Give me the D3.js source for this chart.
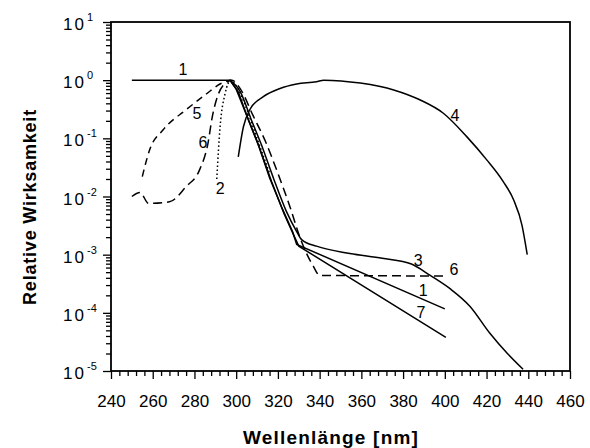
<!DOCTYPE html>
<html>
<head>
<meta charset="utf-8">
<script src="https://cdn.jsdelivr.net/npm/d3@7"></script>
<style>
  body { margin: 0; background: #fff; }
  svg { font-family: "Liberation Sans", Arial, sans-serif; }
</style>
</head>
<body>
<svg id="chart"></svg>
<script>
// Wellenlängen [nm] und relative Wirksamkeit der einzelnen Kurven
const wl1 = [250, 297, 300, 305, 310, 316, 322, 327, 329, 400];
const val1 = [1, 1, 0.7, 0.25, 0.09, 0.021, 0.0063, 0.0025, 0.0015, 0.000117];

const wl2 = [290.7, 292.3, 294.7, 297.5, 300, 304, 308, 312, 316];
const val2 = [0.02, 0.16, 0.59, 1.0, 0.8, 0.4, 0.16, 0.063, 0.025];

const wl3 = [297, 302, 307, 312, 318, 324, 329, 331.5, 338.5, 354.5, 370, 384, 393, 402.5, 412, 421.5, 430, 437.5];
const val3 = [1, 0.63, 0.22, 0.079, 0.02, 0.0056, 0.0025, 0.0018, 0.0014, 0.00105, 0.00087, 0.00069, 0.00044, 0.00026, 0.00013, 0.000045, 0.00002, 0.0000107];

const wl4 = [301, 303.5, 306.5, 313, 321, 329, 338.5, 342, 359.5, 375.5, 388, 399.3, 410.5, 420, 428, 433, 437, 439.5];
const val4 = [0.048, 0.16, 0.31, 0.52, 0.72, 0.86, 0.94, 1.0, 0.89, 0.68, 0.46, 0.27, 0.107, 0.043, 0.018, 0.0087, 0.0032, 0.001];

const wl5 = [255, 258.5, 265, 276, 286, 292, 297];
const val5 = [0.022, 0.063, 0.14, 0.31, 0.59, 0.85, 1.0];

const wl6 = [250, 254, 258, 268, 276, 282.5, 286.5, 288.5, 291, 294, 298, 302, 308, 314, 320, 326, 330.5, 334, 337, 340, 400];
const val6 = [0.01, 0.0117, 0.0076, 0.0081, 0.0148, 0.029, 0.083, 0.23, 0.52, 0.83, 1.0, 0.71, 0.25, 0.089, 0.025, 0.0063, 0.002, 0.001, 0.00063, 0.00044, 0.00043];

const wl7 = [297, 301, 306, 311, 317, 323, 328, 330, 400.5];
const val7 = [1, 0.63, 0.2, 0.071, 0.018, 0.005, 0.002, 0.0014, 0.000038];

// Beschriftungen der Kurven (Wellenlänge, Wert)
const labelText = ["1", "5", "6", "2", "4", "3", "6", "1", "7"];
const labelWl = [274.5, 281.2, 284.1, 292.3, 404.9, 387.2, 404.4, 389.6, 388.6];
const labelVal = [1.5, 0.27, 0.086, 0.014, 0.25, 0.00078, 0.00055, 0.000245, 0.0001];

const xTicks = [240, 260, 280, 300, 320, 340, 360, 380, 400, 420, 440, 460];
const yExponents = [1, 0, -1, -2, -3, -4, -5];

const WIDTH = 590, HEIGHT = 448;
const margins = { top: 22, right: 20, bottom: 77, left: 111 };

const svg = d3.select("#chart")
  .attr("width", WIDTH)
  .attr("height", HEIGHT);

const escalaX = d3.scaleLinear()
  .domain([240, 460])
  .range([margins.left, WIDTH - margins.right]);

const escalaY = d3.scaleLog()
  .domain([1e-5, 10])
  .range([HEIGHT - margins.bottom, margins.top]);

// Achsen
const ejeX = svg.append("g")
  .attr("transform", `translate(0 ${HEIGHT - margins.bottom})`);

const minorX = d3.range(240, 461, 4).filter(v => v % 20 !== 0);
ejeX.call(d3.axisBottom(escalaX).tickValues(minorX).tickSize(5).tickFormat(""));
ejeX.append("g")
  .call(d3.axisBottom(escalaX).tickValues(xTicks).tickSize(8).tickPadding(25)
    .tickFormat(d3.format("d")));
ejeX.selectAll(".domain").remove();
ejeX.selectAll("line").attr("stroke", "#000").attr("stroke-width", 1.3);
ejeX.selectAll("text")
  .attr("font-size", 17)
  .attr("fill", "#000")
  .attr("dy", null)
  .attr("y", 36);

const ejeY = svg.append("g")
  .attr("transform", `translate(${margins.left} 0)`);

const minorY = [];
for (let e = -5; e < 1; e++) {
  for (let m = 2; m <= 9; m++) minorY.push(m * Math.pow(10, e));
}
ejeY.call(d3.axisLeft(escalaY).tickValues(minorY).tickSize(5).tickFormat(""));
ejeY.append("g")
  .call(d3.axisLeft(escalaY).tickValues(yExponents.map(e => Math.pow(10, e))).tickSize(8).tickFormat(""));
ejeY.selectAll(".domain").remove();
ejeY.selectAll("line").attr("stroke", "#000").attr("stroke-width", 1.3);

const etiquetasY = svg.append("g")
  .selectAll("text")
  .data(yExponents)
  .join("text")
  .attr("x", 63)
  .attr("y", d => escalaY(Math.pow(10, d)) + 8)
  .attr("font-size", 17)
  .attr("fill", "#000");
etiquetasY.append("tspan").attr("letter-spacing", 2).text("10");
etiquetasY.append("tspan")
  .attr("x", 87)
  .attr("dy", -9)
  .attr("font-size", 11)
  .text(d => d < 0 ? "-" + Math.abs(d) : d);

// Rahmen
svg.append("rect")
  .attr("x", margins.left)
  .attr("y", margins.top)
  .attr("width", WIDTH - margins.left - margins.right)
  .attr("height", HEIGHT - margins.top - margins.bottom)
  .attr("fill", "none")
  .attr("stroke", "#000")
  .attr("stroke-width", 1.8);

// Kurven
const curvas = [
  { wl: wl1, val: val1, dash: null, curve: d3.curveLinear },
  { wl: wl2, val: val2, dash: "1.5,2.5", curve: d3.curveMonotoneX },
  { wl: wl3, val: val3, dash: null, curve: d3.curveMonotoneX },
  { wl: wl4, val: val4, dash: null, curve: d3.curveMonotoneX },
  { wl: wl5, val: val5, dash: "7,5", curve: d3.curveMonotoneX },
  { wl: wl6, val: val6, dash: "9,5", curve: d3.curveMonotoneX },
  { wl: wl7, val: val7, dash: null, curve: d3.curveLinear }
];

const contenedorCurvas = svg.append("g");

contenedorCurvas.selectAll("path")
  .data(curvas)
  .join("path")
  .attr("d", c => d3.line()
    .x(i => escalaX(c.wl[i]))
    .y(i => escalaY(c.val[i]))
    .curve(c.curve)(d3.range(c.wl.length)))
  .attr("fill", "none")
  .attr("stroke", "#000")
  .attr("stroke-width", 1.5)
  .attr("stroke-dasharray", c => c.dash);

svg.append("g")
  .selectAll("text")
  .data(labelText)
  .join("text")
  .attr("x", (d, i) => escalaX(labelWl[i]))
  .attr("y", (d, i) => escalaY(labelVal[i]))
  .attr("text-anchor", "middle")
  .attr("dominant-baseline", "central")
  .attr("font-size", 16)
  .attr("fill", "#000")
  .text(d => d);

// Achsentitel
svg.append("text")
  .attr("x", 331)
  .attr("y", 444)
  .attr("text-anchor", "middle")
  .attr("font-size", 19)
  .attr("font-weight", "bold")
  .attr("letter-spacing", 1.2)
  .text("Wellenlänge [nm]");

svg.append("text")
  .attr("transform", "translate(30 207) rotate(-90)")
  .attr("text-anchor", "middle")
  .attr("dominant-baseline", "central")
  .attr("font-size", 18)
  .attr("font-weight", "bold")
  .attr("letter-spacing", 0.8)
  .text("Relative Wirksamkeit");
</script>
</body>
</html>
